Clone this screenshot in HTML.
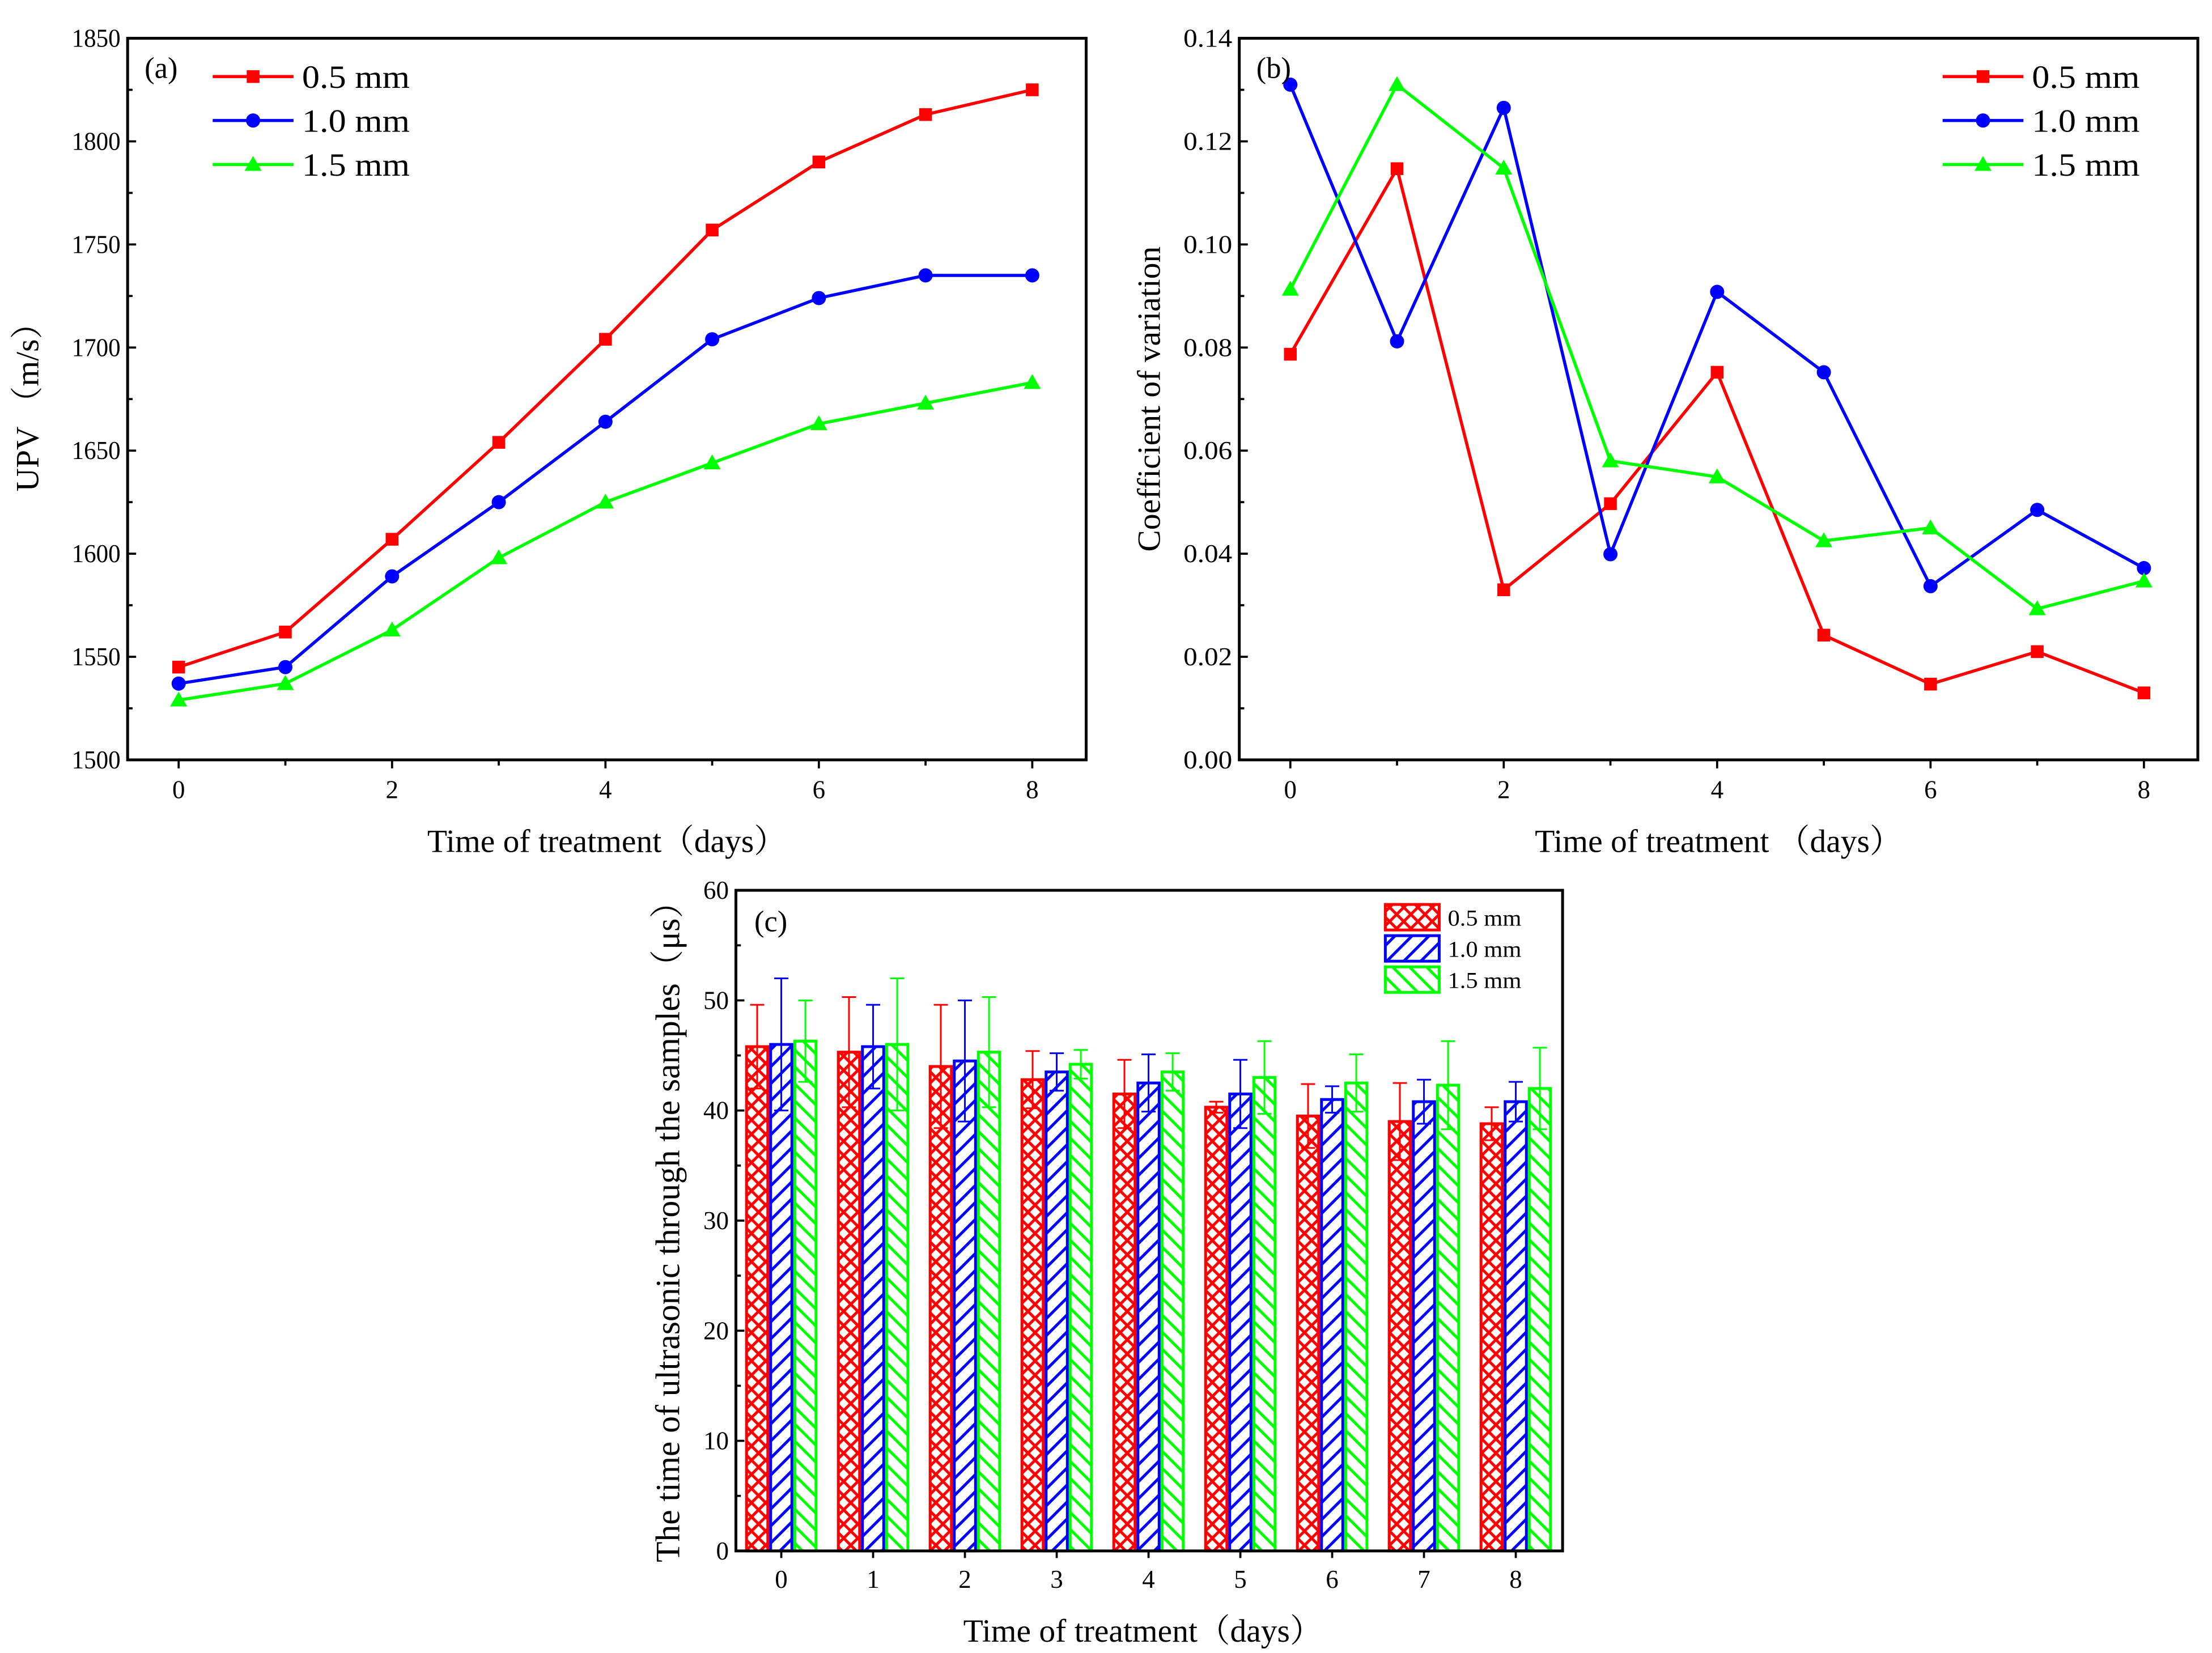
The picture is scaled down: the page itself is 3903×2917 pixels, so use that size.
<!DOCTYPE html>
<html><head><meta charset="utf-8"><style>
html,body{margin:0;padding:0;background:#fff;}
svg{display:block;font-family:"Liberation Serif","Noto Serif CJK SC",serif;}
</style></head><body>
<svg id="fig" width="3903" height="2917" viewBox="0 0 1560 1166" preserveAspectRatio="none" xmlns="http://www.w3.org/2000/svg">
<defs>
<pattern id="pRed" patternUnits="userSpaceOnUse" width="10" height="10">
<path d="M0,0 L10,10 M10,0 L0,10 M-5,5 L5,15 M5,-5 L15,5 M5,15 L15,5 M-5,5 L5,-5" stroke="#ff0000" stroke-width="2" fill="none"/></pattern>
<pattern id="pBlue" patternUnits="userSpaceOnUse" width="12" height="12">
<path d="M-3,3 L3,-3 M0,12 L12,0 M9,15 L15,9" stroke="#0000ff" stroke-width="2" fill="none"/></pattern>
<pattern id="pGreen" patternUnits="userSpaceOnUse" width="12" height="12">
<path d="M-3,9 L3,15 M0,0 L12,12 M9,-3 L15,3" stroke="#00ff00" stroke-width="2" fill="none"/></pattern>
</defs>
<g id="ga"></g>
<g id="gb"></g>
<g id="gc"></g>
</svg>
<script>
const days = [0,1,2,3,4,5,6,7,8];
const upv05 = [1545,1562,1607,1654,1704,1757,1790,1813,1825];
const upv10 = [1537,1545,1589,1625,1664,1704,1724,1735,1735];
const upv15 = [1529,1537,1563,1598,1625,1644,1663,1673,1683];
const cv05 = [0.0787,0.1147,0.0330,0.0497,0.0752,0.0242,0.0147,0.0210,0.0130];
const cv10 = [0.1310,0.0812,0.1265,0.0399,0.0908,0.0752,0.0337,0.0485,0.0372];
const cv15 = [0.0913,0.1310,0.1148,0.0580,0.0549,0.0425,0.0450,0.0293,0.0347];
const t05 = [45.8,45.3,44.0,42.8,41.5,40.3,39.5,39.0,38.8];
const t10 = [46.0,45.8,44.5,43.5,42.5,41.5,41.0,40.8,40.8];
const t15 = [46.3,46.0,45.3,44.2,43.5,43.0,42.5,42.3,42.0];
const e05 = [3.8,5.0,5.6,2.6,3.1,0.5,2.9,3.5,1.5];
const e10 = [6.0,3.8,5.5,1.7,2.6,3.1,1.2,2.0,1.8];
const e15 = [3.7,6.0,5.0,1.3,1.7,3.3,2.6,4.0,3.7];
const upvTicks = [1500,1550,1600,1650,1700,1750,1800,1850];
const cvTicks = ["0.00","0.02","0.04","0.06","0.08","0.10","0.12","0.14"];
const tTicks = [0,10,20,30,40,50,60];
const xTicksAB = [0,2,4,6,8];
const legendLabels = ["0.5 mm","1.0 mm","1.5 mm"];
const colors = ["#ff0000","#0000ff","#00ff00"];

const NS="http://www.w3.org/2000/svg";
function mk(parent,tag,attrs,text){const e=document.createElementNS(NS,tag);for(const k in attrs)e.setAttribute(k,attrs[k]);if(text!==undefined)e.textContent=text;parent.appendChild(e);return e;}

function marker(g,type,x,y,c){
  let e;
  if(type===0){e=mk(g,'rect',{x:x-4.5,y:y-4.5,width:9,height:9,fill:c});}
  else if(type===1){e=mk(g,'circle',{cx:x,cy:y,r:5,fill:c});}
  else {e=mk(g,'polygon',{points:`${x},${y-6} ${x-6},${y+4.5} ${x+6},${y+4.5}`,fill:c});}
  
  
}

function linePanel(g,L,R,T,B,x0px,x8px,ymin,ymax,ticks,tickLabels,series,minorStep,panelLabel,ytitle,ytx,xtitle,legX){
  const xs=d=>x0px+(x8px-x0px)*d/8;
  const ys=v=>B-(B-T)*(v-ymin)/(ymax-ymin);
  const ax=mk(g,'rect',{x:L,y:T,width:R-L,height:B-T,fill:'none',stroke:'#000','stroke-width':2});
  
  
  ticks.forEach((v,i)=>{const y=ys(v);mk(g,'line',{x1:L,y1:y,x2:L+6,y2:y,stroke:'#000','stroke-width':1.5});
    const t=mk(g,'text',{x:L-5,y:y+6,'text-anchor':'end','font-size':18,'textLength':tickLabels[i].length*8.6,'lengthAdjust':'spacingAndGlyphs'},tickLabels[i]);
    
    
    if(i<ticks.length-1){const ym=ys(v+minorStep);mk(g,'line',{x1:L,y1:ym,x2:L+3.5,y2:ym,stroke:'#000','stroke-width':1.5});}
  });
  days.forEach(d=>{const x=xs(d);mk(g,'line',{x1:x,y1:B,x2:x,y2:B+(d%2?4:6),stroke:'#000','stroke-width':1.5});});
  xTicksAB.forEach(d=>{const t=mk(g,'text',{x:xs(d),y:B+27,'text-anchor':'middle','font-size':18},String(d));
    
    });
  series.forEach((s,si)=>{
    const pts=s.map((v,i)=>xs(days[i])+','+ys(v)).join(' ');
    const pl=mk(g,'polyline',{points:pts,fill:'none',stroke:colors[si],'stroke-width':2.2});
    
    
    s.forEach((v,i)=>marker(g,si,xs(days[i]),ys(v),colors[si]));
  });
  legendLabels.forEach((lab,i)=>{const y=54+31*i;
    mk(g,'line',{x1:legX,y1:y,x2:legX+57,y2:y,stroke:colors[i],'stroke-width':2.2});
    marker(g,i,legX+28.5,y,colors[i]);
    const t=mk(g,'text',{x:legX+63,y:y+8,'font-size':23,'textLength':76,'lengthAdjust':'spacingAndGlyphs'},lab);
    
    });
  const pl=mk(g,'text',{x:L+12,y:T+28,'font-size':21},panelLabel);
  
  
  const yt=mk(g,'text',{x:0,y:0,'text-anchor':'middle','font-size':23,transform:`translate(${ytx},${(T+B)/2}) rotate(-90)`},ytitle);
  
  
  const xt=mk(g,'text',{x:(L+R)/2,y:601,'text-anchor':'middle','font-size':23},xtitle);
  
  
}

linePanel(document.getElementById('ga'),90,766,27,536,126,728,1500,1850,upvTicks,upvTicks.map(String),[upv05,upv10,upv15],25,'(a)','UPV （m/s）',27,'Time of treatment（days）',150);
linePanel(document.getElementById('gb'),874,1550,27,536,910,1512,0,0.14,cvTicks.map(Number),cvTicks,[cv05,cv10,cv15],0.01,'(b)','Coefficient of variation',818,'Time of treatment （days）',1370);

(function(){
  const g=document.getElementById('gc');
  const L=519,R=1102,T=628,B=1094,x0=551,x8=1069;
  const xs=d=>x0+(x8-x0)*d/8;
  const ys=v=>B-(B-T)*v/60;
  const bw=17;
  const data=[t05,t10,t15],errs=[e05,e10,e15],pats=['url(#pRed)','url(#pBlue)','url(#pGreen)'];
  data.forEach((s,si)=>{
    s.forEach((v,i)=>{
      const cx=xs(days[i])+(si-1)*bw;
      const r=mk(g,'rect',{x:cx-bw/2+1,y:ys(v),width:bw-2,height:B-ys(v),fill:pats[si],stroke:colors[si],'stroke-width':2});
      
      
      const e=errs[si][i];
      const eg=mk(g,'path',{d:`M${cx},${ys(v-e)} L${cx},${ys(v+e)} M${cx-5},${ys(v+e)} L${cx+5},${ys(v+e)} M${cx-5},${ys(v-e)} L${cx+5},${ys(v-e)}`,stroke:colors[si],'stroke-width':1.2,fill:'none'});
      
      
    });
  });
  const ax=mk(g,'rect',{x:L,y:T,width:R-L,height:B-T,fill:'none',stroke:'#000','stroke-width':2});
  
  
  tTicks.forEach((v,i)=>{const y=ys(v);mk(g,'line',{x1:L,y1:y,x2:L+6,y2:y,stroke:'#000','stroke-width':1.5});
    if(i<tTicks.length-1){const ym=ys(v+5);mk(g,'line',{x1:L,y1:ym,x2:L+3.5,y2:ym,stroke:'#000','stroke-width':1.5});}
    const t=mk(g,'text',{x:L-5,y:y+6,'text-anchor':'end','font-size':18},String(v));
    
    });
  days.forEach(d=>{const x=xs(d);mk(g,'line',{x1:x,y1:B,x2:x,y2:B+5,stroke:'#000','stroke-width':1.5});
    const t=mk(g,'text',{x:x,y:B+26,'text-anchor':'middle','font-size':18},String(d));
    
    });
  legendLabels.forEach((lab,i)=>{const y=638+22*i;
    const r=mk(g,'rect',{x:977,y:y,width:38,height:18,fill:pats[i],stroke:colors[i],'stroke-width':2});
    
    
    const t=mk(g,'text',{x:1021,y:y+15,'font-size':16,'textLength':52,'lengthAdjust':'spacingAndGlyphs'},lab);
    
    });
  const pl=mk(g,'text',{x:532,y:657,'font-size':21},'(c)');
  
  
  const yt=mk(g,'text',{x:0,y:0,'text-anchor':'middle','font-size':24,'textLength':478,'lengthAdjust':'spacingAndGlyphs',transform:`translate(479,${(T+B)/2+2}) rotate(-90)`},'The time of ultrasonic  through the samples（μs）');
  
  
  const xt=mk(g,'text',{x:806,y:1158,'text-anchor':'middle','font-size':23},'Time of treatment（days）');
  
  
})();
</script>
</body></html>
